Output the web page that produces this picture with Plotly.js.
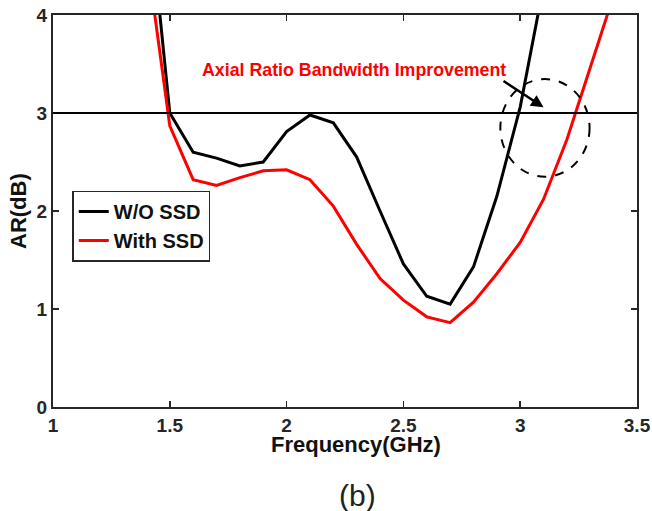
<!DOCTYPE html>
<html>
<head>
<meta charset="utf-8">
<script src="https://cdn.plot.ly/plotly-3.0.1.min.js"></script>
<style>html,body{margin:0;padding:0;background:#fff;}#chart{width:652px;height:511px;}</style>
</head>
<body>
<div id="chart"></div>
<script>
// Data
var freq = [1.4,1.5,1.6,1.7,1.8,1.9,2.0,2.1,2.2,2.3,2.4,2.5,2.6,2.7,2.8,2.9,3.0,3.1,3.2,3.3,3.4];
var arWithoutSSD = [5.36,3.0,2.6,2.54,2.46,2.5,2.81,2.98,2.9,2.55,2.0,1.46,1.13,1.05,1.43,2.15,3.06,4.3,null,null,null];
var arWithSSD = [4.63,2.87,2.32,2.26,2.34,2.41,2.42,2.32,2.05,1.66,1.31,1.09,0.92,0.86,1.07,1.36,1.68,2.12,2.73,3.45,4.2];
var seriesNames = ["W/O SSD","With SSD"];
var xTicks = [1,1.5,2,2.5,3,3.5];
var xTickLabels = ["1","1.5","2","2.5","3","3.5"];
var yTicks = [0,1,2,3,4];
var yTickLabels = ["0","1","2","3","4"];
var refLevel = 3;
var noteText = "Axial Ratio Bandwidth Improvement";

var FONT = "Liberation Sans, Arial, sans-serif";

var traces = [
  {x: freq, y: arWithoutSSD, mode: "lines", name: seriesNames[0],
   line: {color: "#000000", width: 3}, connectgaps: false},
  {x: freq, y: arWithSSD, mode: "lines", name: seriesNames[1],
   line: {color: "#ff0000", width: 3}}
];

var axisCommon = {
  showgrid: false, zeroline: false, showline: true, linecolor: "#262626", linewidth: 2,
  mirror: "ticks", ticks: "inside", ticklen: 6, tickwidth: 1.5, tickcolor: "#262626",
  tickfont: {family: FONT, size: 19, color: "#262626", weight: "bold"}
};

var layout = {
  width: 652, height: 511,
  margin: {l: 53, r: 15, t: 15, b: 104},
  paper_bgcolor: "#ffffff", plot_bgcolor: "#ffffff",
  showlegend: true,
  legend: {x: 0.033, y: 0.552, xanchor: "left", yanchor: "top",
    bordercolor: "#262626", borderwidth: 1.5, bgcolor: "#ffffff",
    font: {family: FONT, size: 20, color: "#111", weight: "bold"},
    tracegroupgap: 0, itemwidth: 30},
  xaxis: Object.assign({}, axisCommon, {range: [1, 3.5], tickvals: xTicks, ticktext: xTickLabels}),
  yaxis: Object.assign({}, axisCommon, {range: [0, 4], tickvals: yTicks, ticktext: yTickLabels}),
  shapes: [
    {type: "line", xref: "paper", x0: 0, x1: 1, yref: "y", y0: refLevel, y1: refLevel,
     line: {color: "#000", width: 1.8}},
    {type: "circle", xref: "x", yref: "y", x0: 2.915, x1: 3.297, y0: 2.35, y1: 3.346,
     line: {color: "#000", width: 2, dash: "dash"}}
  ],
  annotations: [
    {text: noteText, xref: "x", yref: "y", x: 2.29, y: 3.434, showarrow: false,
     xanchor: "center", yanchor: "middle",
     font: {family: FONT, size: 17.8, color: "#ff0000", weight: "bold"}},
    {text: "", xref: "x", yref: "y", x: 3.10, y: 3.058, axref: "x", ayref: "y", ax: 2.922, ay: 3.337,
     showarrow: true, arrowhead: 2, arrowsize: 1, arrowwidth: 2.5, arrowcolor: "#000"},
    {text: "Frequency(GHz)", xref: "paper", yref: "paper", x: 0.518, y: 0, xanchor: "center", yanchor: "top",
     yshift: -23, showarrow: false, font: {family: FONT, size: 22, color: "#111", weight: "bold"}},
    {text: "AR(dB)", xref: "paper", yref: "paper", x: 0, y: 0.5, xanchor: "center", yanchor: "middle",
     xshift: -35, yshift: 0, textangle: -90, showarrow: false,
     font: {family: FONT, size: 22, color: "#111", weight: "bold"}},
    {text: "(b)", xref: "paper", yref: "paper", x: 0.522, y: 0, xanchor: "center", yanchor: "middle",
     yshift: -88, showarrow: false, font: {family: FONT, size: 30, color: "#222"}}
  ]
};

Plotly.newPlot("chart", traces, layout, {staticPlot: true, displayModeBar: false});
</script>
</body>
</html>
